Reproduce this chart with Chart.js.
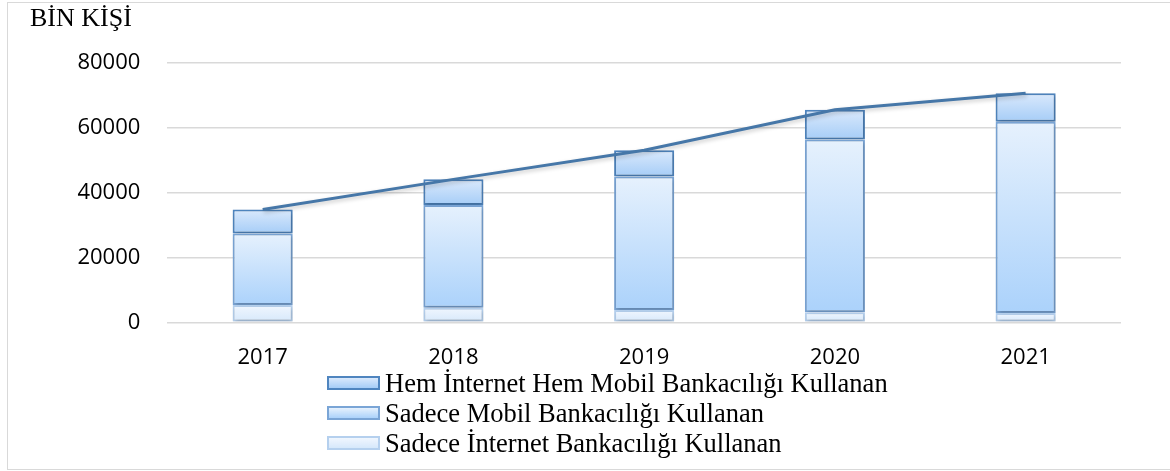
<!DOCTYPE html>
<html lang="tr">
  <head>
    <meta charset="utf-8" />
    <title>Bankacılık Kullanıcıları</title>
    <script src="https://cdn.jsdelivr.net/npm/chart.js"></script>
    <style>
      body { margin: 0; background: #fff; }
      .wrap { position: relative; width: 1170px; height: 471px; }
      .frame {
        position: absolute; left: 7px; top: 2px; width: 1180px; height: 466px;
        border: 1.5px solid #d9d9d9;
      }
      .unit {
        position: absolute; left: 30px; top: 3px;
        font: 26px "Liberation Serif", "Times New Roman", serif; color: #000;
      }
      #legend { position: absolute; left: 327px; top: 368px; }
      #legend .row { height: 30px; display: flex; align-items: center; font: 26.5px "Liberation Serif", serif; color: #000; white-space: nowrap; }
      #legend .sw { width: 49px; height: 10px; margin-right: 5px; border: 2px solid; flex: none; }
    </style>
  </head>
  <body>
    <div class="wrap">
      <div class="frame"></div>
      <canvas id="bankChart" width="1170" height="471"></canvas>
      <div class="unit">BİN KİŞİ</div>
      <div id="legend"></div>
    </div>

<script>
  // values (thousand people)
  const years = ['2017', '2018', '2019', '2020', '2021'];
  const onlyInternet = [5300, 4500, 3800, 3100, 2900];
  const onlyMobile = [22100, 31700, 41200, 53300, 59000];
  const both = [7400, 7900, 8100, 9200, 8800];
  const totals = [34800, 44100, 53100, 65600, 70700];
  const yTicks = [0, 20000, 40000, 60000, 80000];

  const seriesNames = [
    'Sadece İnternet Bankacılığı Kullanan',
    'Sadece Mobil Bankacılığı Kullanan',
    'Hem İnternet Hem Mobil Bankacılığı Kullanan'
  ];
  // [top colour, bottom colour, border]
  const styles = [
    ['#f0f6fe', '#d6e8fb', '#b5d0ee'],
    ['#e6f1fd', '#abd2fb', '#7aa5d6'],
    ['#dae9fc', '#a6cdf7', '#4f85bf']
  ];

  // vertical gradient per stacked segment
  function segGradient(ctx, col) {
    const chart = ctx.chart;
    const y = chart.scales.y;
    if (!y || !chart.chartArea || ctx.type !== 'data') return col[1];
    const i = ctx.datasetIndex, j = ctx.dataIndex;
    let base = 0;
    for (let k = 0; k < i; k++) base += chart.data.datasets[k].data[j];
    const top = base + chart.data.datasets[i].data[j];
    const g = chart.ctx.createLinearGradient(0, y.getPixelForValue(top), 0, y.getPixelForValue(base));
    g.addColorStop(0, col[0]);
    g.addColorStop(1, col[1]);
    return g;
  }

  const barData = [onlyInternet, onlyMobile, both];
  const datasets = barData.map((d, i) => ({
    type: 'bar',
    label: seriesNames[i],
    data: d,
    stack: 'users',
    order: 1,
    backgroundColor: ctx => segGradient(ctx, styles[i]),
    borderColor: styles[i][2],
    borderWidth: 2,
    borderSkipped: false,
    barPercentage: 0.315,
    categoryPercentage: 1
  }));
  datasets.push({
    type: 'line',
    label: 'Toplam',
    data: totals,
    stack: 'total',
    order: 0,
    borderColor: '#4677a8',
    borderWidth: 3,
    pointRadius: 0,
    tension: 0
  });

  // soft shadow under the marks, like the office chart
  const shadowPlugin = {
    id: 'shadow',
    beforeDatasetDraw(chart) {
      const c = chart.ctx;
      c.save();
      c.shadowColor = 'rgba(0,0,0,0.22)';
      c.shadowBlur = 4;
      c.shadowOffsetX = 1;
      c.shadowOffsetY = 2;
    },
    afterDatasetDraw(chart) { chart.ctx.restore(); }
  };

  new Chart(document.getElementById('bankChart'), {
    data: { labels: years, datasets: datasets },
    plugins: [shadowPlugin],
    options: {
      responsive: false,
      animation: false,
      layout: { padding: { left: 0, right: 49, top: 63, bottom: 0 } },
      scales: {
        x: {
          stacked: true,
          grid: { display: false },
          border: { display: false },
          ticks: { color: '#000', padding: 14, font: { family: 'Open Sans', size: 22 } },
          afterFit: s => { s.height = 471 - 322.3; }
        },
        y: {
          stacked: true,
          min: 0,
          max: 80000,
          afterBuildTicks: s => { s.ticks = yTicks.map(v => ({ value: v })); },
          grid: { color: '#d9d9d9', lineWidth: 1.5, drawTicks: false },
          border: { display: false },
          ticks: {
            color: '#000',
            padding: 27,
            font: { family: 'Open Sans', size: 22 },
            callback: v => String(v)
          },
          afterFit: s => { s.width = 167.3; }
        }
      },
      plugins: {
        legend: { display: false },
        tooltip: { enabled: false }
      }
    }
  });

  // legend: top row is the top segment
  const legend = document.getElementById('legend');
  for (let i = seriesNames.length - 1; i >= 0; i--) {
    const row = document.createElement('div');
    row.className = 'row';
    const sw = document.createElement('span');
    sw.className = 'sw';
    sw.style.background = 'linear-gradient(' + styles[i][0] + ',' + styles[i][1] + ')';
    sw.style.borderColor = styles[i][2];
    row.appendChild(sw);
    row.appendChild(document.createTextNode(seriesNames[i]));
    legend.appendChild(row);
  }
</script>
  </body>
</html>
